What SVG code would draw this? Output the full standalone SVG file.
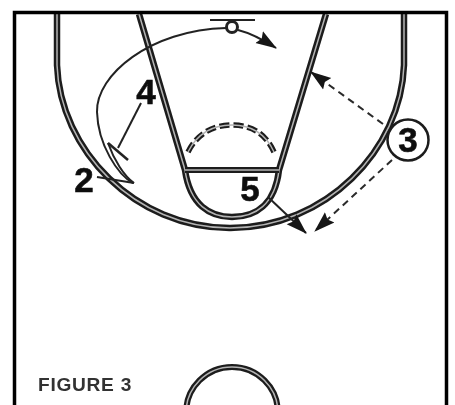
<svg xmlns="http://www.w3.org/2000/svg" width="455" height="405" viewBox="0 0 455 405">
<defs>
<style>
.o{fill:none;stroke:#1c1c1c;stroke-width:6.500}
.i{fill:none;stroke:#b4b4b4;stroke-width:1.500}
.t{fill:none;stroke:#222;stroke-width:2}
.d{fill:none;stroke:#2a2a2a;stroke-width:2;stroke-dasharray:7 5}
.l{font-family:"Liberation Sans",Arial,sans-serif;font-weight:700;font-size:35px;fill:#111;text-anchor:middle;stroke:#111;stroke-width:.6}
</style>
<filter id="b" x="-5%" y="-5%" width="110%" height="110%"><feGaussianBlur stdDeviation="0.6"/></filter>
<marker id="a" markerWidth="22" markerHeight="16" refX="20" refY="8" orient="auto" markerUnits="userSpaceOnUse"><path d="M0 1 L21 8 L0 15 L3 8 Z" fill="#151515"/></marker>
</defs>
<rect width="455" height="405" fill="#fff"/>
<g id="court" filter="url(#b)">
<path class="o" d="M57 14 V65 C60 150 135 228 230 228 C326 228 401 150 404 65 V14"/>
<path class="i" d="M57 14 V65 C60 150 135 228 230 228 C326 228 401 150 404 65 V14"/>
<path class="o" d="M139 14 L185 170 C190 205 210 217 232 217 C255 217 275 205 279 170 L326 14"/>
<path class="i" d="M139 14 L185 170 C190 205 210 217 232 217 C255 217 275 205 279 170 L326 14"/>
<path class="o" style="stroke-width:6" d="M185 170 H279"/>
<path class="i" d="M185 170 H279"/>
<path class="o" style="stroke-width:5.500;stroke-dasharray:10 4" d="M188 152 C198 132 215 125 232 125 C250 125 265 132 274 152"/>
<path class="i" style="stroke-width:1.400" d="M188 152 C198 132 215 125 232 125 C250 125 265 132 274 152"/>
<circle class="o" cx="232" cy="413" r="46" style="stroke-width:6"/>
<circle class="i" cx="232" cy="413" r="46"/>
<path class="t" d="M210 20 H255"/>
<circle class="t" style="stroke-width:3" cx="232" cy="27" r="5.500"/>
</g>
<g id="connectors" filter="url(#b)">
<path class="t" d="M133 183 C118 175 98 145 97 112 C96 75 150 30 226 28"/>
<path class="t" d="M134 183 C124 176 114 160 108 143"/>
<path class="t" d="M97 177 L134 183"/>
<path class="t" d="M141 103 L118 148"/>
<path class="t" style="stroke-width:2.500" d="M108 143 L128 160"/>
<path class="t" d="M238 30 C250 33 262 39 276 48" marker-end="url(#a)"/>
<path class="d" d="M383 124 L311 72" marker-end="url(#a)"/>
<path class="d" d="M392 160 L315 231" marker-end="url(#a)"/>
<path class="t" d="M268 197 L306 233" marker-end="url(#a)"/>
</g>
<g id="player-4" filter="url(#b)"><text class="l" x="146" y="104">4</text></g>
<g id="player-2" filter="url(#b)"><text class="l" x="84" y="192">2</text></g>
<g id="player-5" filter="url(#b)"><text class="l" x="250" y="201">5</text></g>
<g id="player-3" filter="url(#b)"><circle cx="408" cy="140" r="20.500" fill="#fff" stroke="#1c1c1c" stroke-width="2.500"/><text class="l" x="408" y="152">3</text></g>
<g id="caption" filter="url(#b)"><text x="38" y="391" font-family="'Liberation Sans',Arial,sans-serif" font-size="19" font-weight="700" fill="#333" letter-spacing="0.7" textLength="94" lengthAdjust="spacingAndGlyphs">FIGURE 3</text></g>
<g id="frame"><path d="M14.500 405 V12.500 H446.500 V405" fill="none" stroke="#000" stroke-width="3.500"/></g>
</svg>
